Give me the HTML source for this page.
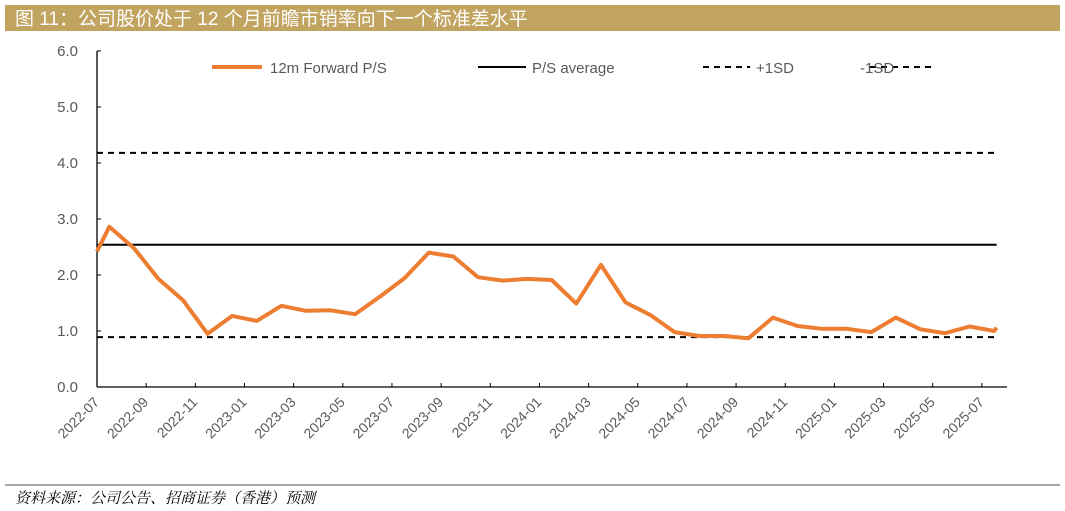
<!DOCTYPE html>
<html><head><meta charset="utf-8"><style>
html,body{margin:0;padding:0;background:#fff;width:1065px;height:511px;overflow:hidden}
svg{display:block}
text{font-family:"Liberation Sans","Noto Sans CJK SC",sans-serif}
</style></head><body>
<svg id="chart" width="1065" height="511">
<rect x="5" y="5" width="1055" height="26" fill="#C2A461"/>
<text x="15" y="25" fill="#fff" font-size="19">图 11：公司股价处于 12 个月前瞻市销率向下一个标准差水平</text>
<g id="axes"></g>
<g id="series"></g>
<g>
<line x1="212" y1="67" x2="262" y2="67" stroke="#ED7D31" stroke-width="4"/>
<text x="270" y="73" font-size="15" fill="#595959">12m Forward P/S</text>
<line x1="478" y1="67" x2="526" y2="67" stroke="#000" stroke-width="2"/>
<text x="532" y="73" font-size="15" fill="#595959">P/S average</text>
<line x1="703" y1="67" x2="750" y2="67" stroke="#000" stroke-width="2" stroke-dasharray="6,5"/>
<text x="756" y="73" font-size="15" fill="#595959">+1SD</text>
<line x1="870" y1="67" x2="932" y2="67" stroke="#000" stroke-width="2" stroke-dasharray="6,5"/>
<text x="860" y="73" font-size="15" fill="#595959">-1SD</text>
</g>
<line x1="5" y1="485" x2="1060" y2="485" stroke="#888" stroke-width="1.5"/>
<text x="15" y="503" font-size="15" font-style="italic" fill="#000" style="font-family:'Liberation Serif','Noto Serif CJK SC',serif">资料来源：公司公告、招商证券（香港）预测</text>
</svg>
<script>
const yTicks=[0,1,2,3,4,5,6];
const xTickLabels=["2022-07","2022-09","2022-11","2023-01","2023-03","2023-05","2023-07","2023-09","2023-11","2024-01","2024-03","2024-05","2024-07","2024-09","2024-11","2025-01","2025-03","2025-05","2025-07"];
// months offset from 2022-07 (start point at 0, then mid-month monthly values, final spike)
const psMonths=[0,0.5,1.5,2.5,3.5,4.5,5.5,6.5,7.5,8.5,9.5,10.5,11.5,12.5,13.5,14.5,15.5,16.5,17.5,18.5,19.5,20.5,21.5,22.5,23.5,24.5,25.5,26.5,27.5,28.5,29.5,30.5,31.5,32.5,33.5,34.5,35.5,36.5,36.6];
const psValues=[2.42,2.86,2.48,1.93,1.55,0.95,1.27,1.18,1.45,1.36,1.37,1.30,1.61,1.94,2.40,2.33,1.96,1.90,1.93,1.91,1.49,2.18,1.51,1.29,0.98,0.91,0.91,0.87,1.24,1.09,1.04,1.04,0.98,1.24,1.03,0.96,1.08,1.00,1.06];
const avgValue=2.54;
const plus1SD=4.18;
const minus1SD=0.89;

const NS="http://www.w3.org/2000/svg";
const x0=97,xEnd=1007,pxPerMonth=24.58,y0=387,pxPerUnit=56;
const xs=m=>x0+m*pxPerMonth;
const ys=v=>y0-v*pxPerUnit;
function mk(tag,attrs,parent){const e=document.createElementNS(NS,tag);for(const k in attrs)e.setAttribute(k,attrs[k]);parent.appendChild(e);return e;}
const axes=document.getElementById('axes'),series=document.getElementById('series');
let e=mk('line',{x1:x0,y1:ys(6),x2:x0,y2:y0,stroke:'#000','stroke-width':1.3},axes);


e=mk('line',{x1:x0,y1:y0,x2:xEnd,y2:y0,stroke:'#000','stroke-width':1.3},axes);


yTicks.forEach(v=>{
  const t=mk('line',{x1:x0,y1:ys(v),x2:x0+4,y2:ys(v),stroke:'#000','stroke-width':1},axes);
  
  
  const l=mk('text',{x:78,y:ys(v)+5,'text-anchor':'end','font-size':15,fill:'#595959'},axes);
  l.textContent=v.toFixed(1);
  
  
});
xTickLabels.forEach((lab,i)=>{
  const x=xs(i*2);
  if(i>0){const t=mk('line',{x1:x,y1:y0,x2:x,y2:y0-4,stroke:'#000','stroke-width':1},axes);
  
  }
  const l=mk('text',{x:x+3,y:y0+16,'text-anchor':'end','font-size':14,fill:'#595959',transform:`rotate(-45 ${x+3} ${y0+16})`},axes);
  l.textContent=lab;
  
  
});
const lx2=xs(psMonths[psMonths.length-1]);
e=mk('line',{x1:x0,y1:ys(avgValue),x2:lx2,y2:ys(avgValue),stroke:'#000','stroke-width':2},series);


e=mk('line',{x1:x0,y1:ys(plus1SD),x2:lx2,y2:ys(plus1SD),stroke:'#000','stroke-width':2,'stroke-dasharray':'6,5'},series);


e=mk('line',{x1:x0,y1:ys(minus1SD),x2:lx2,y2:ys(minus1SD),stroke:'#000','stroke-width':2,'stroke-dasharray':'6,5'},series);


const pts=psValues.map((v,i)=>xs(psMonths[i]).toFixed(1)+','+ys(v).toFixed(1)).join(' ');
e=mk('polyline',{points:pts,fill:'none',stroke:'#ED7D31','stroke-width':4,'stroke-linejoin':'round'},series);


</script>
</body></html>
